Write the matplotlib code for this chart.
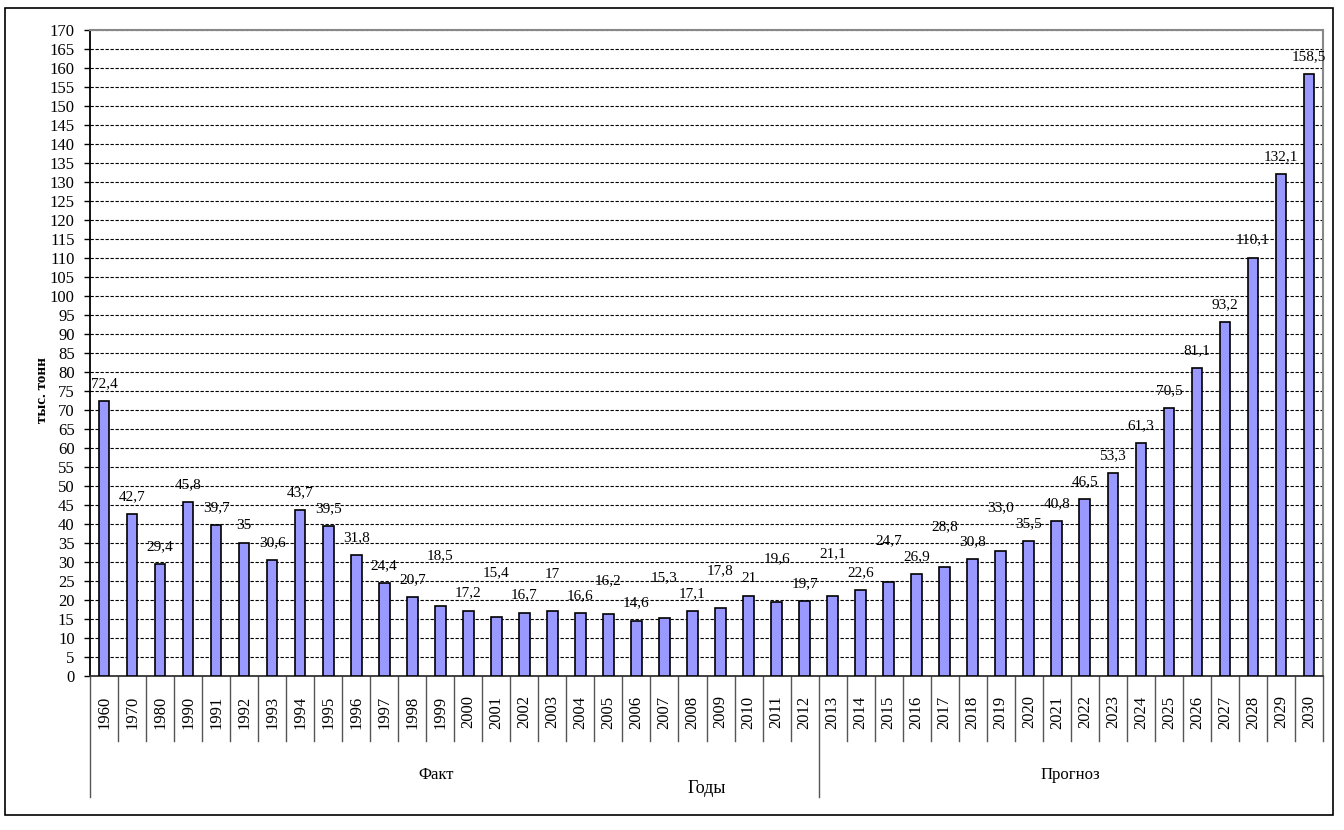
import matplotlib.pyplot as plt
import matplotlib.transforms as mtransforms
from matplotlib.patches import Rectangle
import numpy as np

plt.rcParams['font.family'] = ['Liberation Serif', 'DejaVu Serif']

# Data
years = ['1960', '1970', '1980', '1990', '1991', '1992', '1993', '1994', '1995',
         '1996', '1997', '1998', '1999', '2000', '2001', '2002', '2003', '2004',
         '2005', '2006', '2007', '2008', '2009', '2010', '2011', '2012',
         '2013', '2014', '2015', '2016', '2017', '2018', '2019', '2020', '2021',
         '2022', '2023', '2024', '2025', '2026', '2027', '2028', '2029', '2030']
values = [72.4, 42.7, 29.4, 45.8, 39.7, 35, 30.6, 43.7, 39.5,
          31.8, 24.4, 20.7, 18.5, 17.2, 15.4, 16.7, 17, 16.6,
          16.2, 14.6, 15.3, 17.1, 17.8, 21, 19.6, 19.7,
          21.1, 22.6, 24.7, 26.9, 28.8, 30.8, 33.0, 35.5, 40.8,
          46.5, 53.3, 61.3, 70.5, 81.1, 93.2, 110.1, 132.1, 158.5]
value_labels = ['72,4', '42,7', '29,4', '45,8', '39,7', '35', '30,6', '43,7', '39,5',
                '31,8', '24,4', '20,7', '18,5', '17,2', '15,4', '16,7', '17', '16,6',
                '16,2', '14,6', '15,3', '17,1', '17,8', '21', '19,6', '19,7',
                '21,1', '22,6', '24,7', '26,9', '28,8', '30,8', '33,0', '35,5', '40,8',
                '46,5', '53,3', '61,3', '70,5', '81,1', '93,2', '110,1', '132,1', '158,5']
groups = ['Факт', 'Прогноз']
n_fact = 26

# labels that were moved higher in the original to avoid overlap (extra lift, data units)
label_lift = {'1999': 8.5, '2001': 7.3, '2003': 5.0, '2005': 4.4, '2007': 6.1,
              '2009': 5.2, '2011': 6.7, '2013': 6.6, '2015': 6.2, '2017': 5.8,
              '2019': 6.6}

fig = plt.figure(figsize=(13.44, 8.30), dpi=100)
ax = fig.add_axes([90 / 1344, 1 - 676 / 830, (1323 - 90) / 1344, (676 - 30) / 830])

x = np.arange(len(years))
ax.bar(x, values, width=0.38, color='#9999FF', edgecolor='black', linewidth=1.2, zorder=3)

for xi, v, lab, yr in zip(x, values, value_labels, years):
    ax.text(xi, v + 4.6 + label_lift.get(yr, 0), lab, ha='center', va='center',
            fontsize=11, zorder=4)

ax.set_xlim(-0.5, len(years) - 0.5)
ax.set_ylim(0, 170)
ax.set_yticks(np.arange(0, 171, 5))
ax.tick_params(axis='y', labelsize=12, length=4, pad=7, direction='out', width=1)
ax.set_xticks(x)
ax.set_xticklabels(years, rotation=90, fontsize=12)
ax.tick_params(axis='x', length=0, pad=14)

ax.yaxis.grid(True, linestyle=(0, (3, 1.5)), color='black', linewidth=0.8, zorder=1)
ax.set_axisbelow(True)

ax.spines['left'].set_color('black')
ax.spines['left'].set_linewidth(1.3)
ax.spines['bottom'].set_color('#333333')
ax.spines['bottom'].set_linewidth(1.3)
ax.spines['top'].set_color('#888888')
ax.spines['top'].set_linewidth(1.5)
ax.spines['right'].set_color('#888888')
ax.spines['right'].set_linewidth(1.5)

# multi-level category axis separators
trans = mtransforms.blended_transform_factory(ax.transData, ax.transAxes)
short = -(741 - 676) / 646
long_ = -(797 - 676) / 646
for b in np.arange(-0.5, len(years), 1.0):
    bottom = long_ if b in (-0.5, n_fact - 0.5) else short
    ax.plot([b, b], [0, bottom], transform=trans, color='#555555', linewidth=1,
            clip_on=False)

ax.text((n_fact - 1) / 2 - 0.65, -(775 - 676) / 646, groups[0], transform=trans,
        ha='center', va='center', fontsize=12)
ax.text((n_fact + len(years) - 1) / 2, -(775 - 676) / 646, groups[1], transform=trans,
        ha='center', va='center', fontsize=12)

fig.text(707 / 1344, 1 - 788 / 830, 'Годы', ha='center', va='center', fontsize=13)
fig.text(42 / 1344, 1 - 390 / 830, 'тыс. тонн', ha='center', va='center',
         rotation=90, fontsize=11, fontweight='bold')

# outer frame
fig.patches.append(Rectangle((5 / 1344, 1 - 815 / 830), (1333 - 5) / 1344, (815 - 8) / 830,
                             transform=fig.transFigure, fill=False,
                             edgecolor='black', linewidth=1.2))

fig.savefig('out.png', dpi=100, facecolor='white')
